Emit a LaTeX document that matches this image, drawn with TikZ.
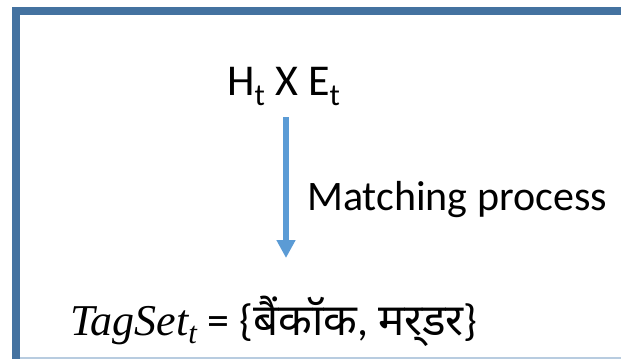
\documentclass[tikz,border=0pt]{standalone}
\usepackage{fontspec}
\setmainfont{Carlito}
\newfontfamily\devfont[Script=Devanagari]{Noto Sans}
\newfontfamily\timesfont{Liberation Serif}
\usetikzlibrary{arrows.meta}
\definecolor{frameblue}{RGB}{68,114,160}
\definecolor{framelight}{RGB}{184,204,224}
\definecolor{arrowblue}{RGB}{91,155,213}
\begin{document}
\begin{tikzpicture}[x=1pt,y=-1pt,
  lbl/.style={anchor=base west,inner sep=0pt,font=\fontsize{44}{50}\selectfont},
  flow/.style={draw=arrowblue,line width=6pt,-{Triangle[length=18pt,width=18pt]}}]
\useasboundingbox (0,0) rectangle (621,359);
\fill[white] (0,0) rectangle (621,359);
\draw[framelight,line width=1.2pt] (20,358) -- (621,358);
\fill[frameblue] (12,7) rectangle (621,15);
\fill[frameblue] (12,7) rectangle (20,359);
\node[lbl] (hxe) at (227,95) {H\textsubscript{t} X E\textsubscript{t}};
\coordinate (atop) at (286,117);
\coordinate (abot) at (286,258);
\draw[flow] (atop) -- (abot);
\node[lbl,font=\fontsize{42}{48}\selectfont] (match) at (307,210) {Matching process};
\node[lbl] (tags) at (70,335) {{\timesfont\itshape TagSet\textsubscript{t}} = \{{\devfont बैंकॉक}, {\devfont मर्‌डर}\}};
\end{tikzpicture}
\end{document}
